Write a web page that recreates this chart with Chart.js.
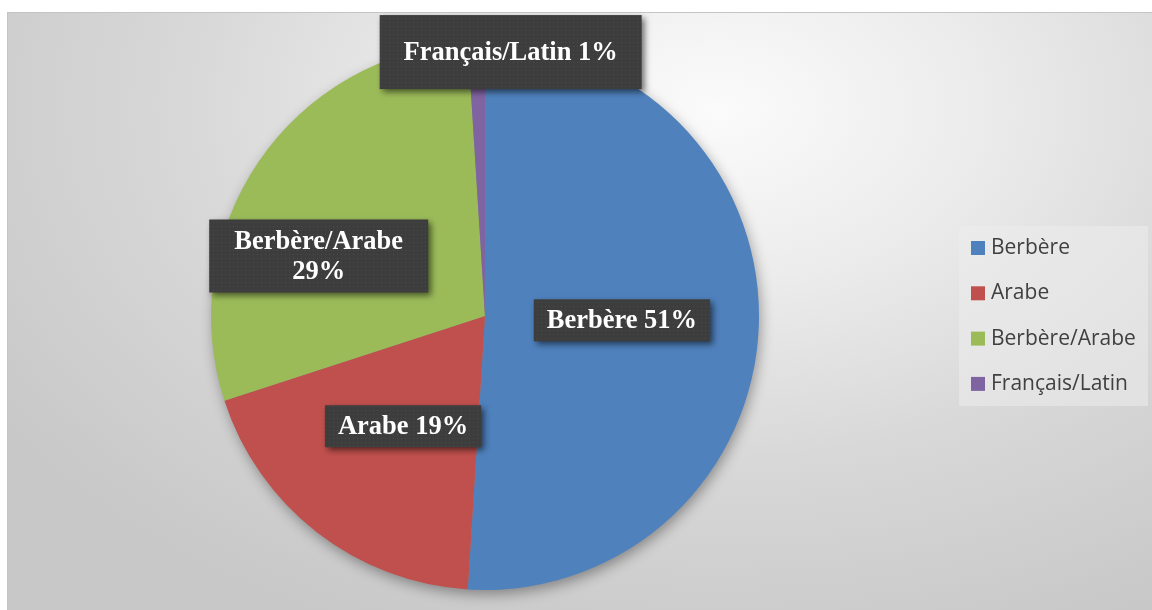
<!DOCTYPE html>
<html>
<head>
<meta charset="utf-8">
<script src="https://cdn.jsdelivr.net/npm/chart.js"></script>
<style>
    html, body { margin: 0; padding: 0; background: #fff; width: 1152px; height: 610px; overflow: hidden; }
    #frame {
        position: absolute; left: 7px; top: 12px; width: 1145px; height: 598px;
        border-top: 1px solid #c4c4c4; border-left: 1px solid #c4c4c4;
        background: radial-gradient(ellipse 75% 95% at 62% 16%, #fbfbfb 0%, #ececec 30%, #d8d8d8 62%, #c8c8c8 100%);
    }
    canvas { position: absolute; left: 0; top: 0; }
</style>
</head>
<body>
<div id="frame"><canvas id="pie" width="1145" height="598"></canvas></div>
<script>
// data
const categories = ['Berbère', 'Arabe', 'Berbère/Arabe', 'Français/Latin'];
const shares = [51, 19, 29, 1];
const sliceColors = ['#4F81BD', '#C0504D', '#9BBB59', '#8064A2'];

// label placement (moved by hand in the original, as in the workbook)
const labelNudge = [[0, 0], [2, 2], [-53, 17], [30, -127]];
const labelBox = [null, null, [219, 73], [262, 74]];
const labelLines = [null, null, 2, null];

const total = shares.reduce((a, b) => a + b, 0);
const pct = v => Math.round(v / total * 100) + '%';

// dotted fill used by the label boxes
const makePattern = (ctx) => {
    const c = document.createElement('canvas');
    c.width = 4; c.height = 4;
    const p = c.getContext('2d');
    p.fillStyle = '#3d3d3d';
    p.fillRect(0, 0, 4, 4);
    p.fillStyle = '#4c4c4c';
    p.fillRect(1, 1, 1, 1);
    return ctx.createPattern(c, 'repeat');
};

const pieShadow = {
    id: 'pieShadow',
    beforeDatasetsDraw(chart) {
        const arc = chart.getDatasetMeta(0).data[0];
        if (!arc) return;
        const ctx = chart.ctx;
        ctx.save();
        ctx.shadowColor = 'rgba(0,0,0,0.38)';
        ctx.shadowBlur = 14;
        ctx.shadowOffsetX = 2;
        ctx.shadowOffsetY = 5;
        ctx.fillStyle = '#888';
        ctx.beginPath();
        ctx.arc(arc.x, arc.y, arc.outerRadius - 1, 0, Math.PI * 2);
        ctx.fill();
        ctx.restore();
    }
};

const dataLabels = {
    id: 'dataLabels',
    afterDatasetsDraw(chart) {
        const ctx = chart.ctx;
        const pattern = makePattern(ctx);
        ctx.save();
        ctx.font = 'bold 26.5px "Liberation Serif", "Times New Roman", serif';
        ctx.textAlign = 'center';
        ctx.textBaseline = 'middle';
        chart.getDatasetMeta(0).data.forEach((arc, i) => {
            const c = arc.getCenterPoint();
            const x = c.x + labelNudge[i][0];
            const y = c.y + labelNudge[i][1];
            const lines = labelLines[i] === 2 ? [categories[i], pct(shares[i])] : [categories[i] + ' ' + pct(shares[i])];
            const lh = 30;
            let w, h;
            if (labelBox[i]) {
                [w, h] = labelBox[i];
            } else {
                w = Math.max(...lines.map(l => ctx.measureText(l).width)) + 26;
                h = lines.length * lh + 12;
            }
            ctx.save();
            ctx.shadowColor = 'rgba(0,0,0,0.55)';
            ctx.shadowBlur = 6;
            ctx.shadowOffsetX = 3;
            ctx.shadowOffsetY = 3;
            ctx.fillStyle = pattern;
            ctx.fillRect(x - w / 2, y - h / 2, w, h);
            ctx.restore();
            ctx.fillStyle = '#ffffff';
            lines.forEach((l, k) => {
                ctx.fillText(l, x, y + (k - (lines.length - 1) / 2) * lh + 1);
            });
        });
        ctx.restore();
    }
};

const sideLegend = {
    id: 'sideLegend',
    afterDraw(chart) {
        const ctx = chart.ctx;
        const left = 951, top = 213, w = 189, h = 180;
        ctx.save();
        ctx.fillStyle = 'rgba(236,236,236,0.55)';
        ctx.fillRect(left, top, w, h);
        ctx.font = '21px "Open Sans", sans-serif';
        ctx.textBaseline = 'middle';
        categories.forEach((name, i) => {
            const cy = top + 22 + i * 45.3;
            ctx.fillStyle = sliceColors[i];
            ctx.fillRect(left + 12, cy - 7, 14, 14);
            ctx.fillStyle = '#404040';
            ctx.fillText(name, left + 32, cy);
        });
        ctx.restore();
    }
};

new Chart(document.getElementById('pie'), {
    type: 'pie',
    data: {
        labels: categories,
        datasets: [{
            data: shares,
            backgroundColor: sliceColors,
            borderWidth: 0
        }]
    },
    options: {
        responsive: false,
        animation: false,
        layout: { padding: { top: 29, bottom: 21, left: 203, right: 394 } },
        plugins: {
            legend: { display: false },
            tooltip: { enabled: false }
        }
    },
    plugins: [pieShadow, dataLabels, sideLegend]
});
</script>
</body>
</html>
